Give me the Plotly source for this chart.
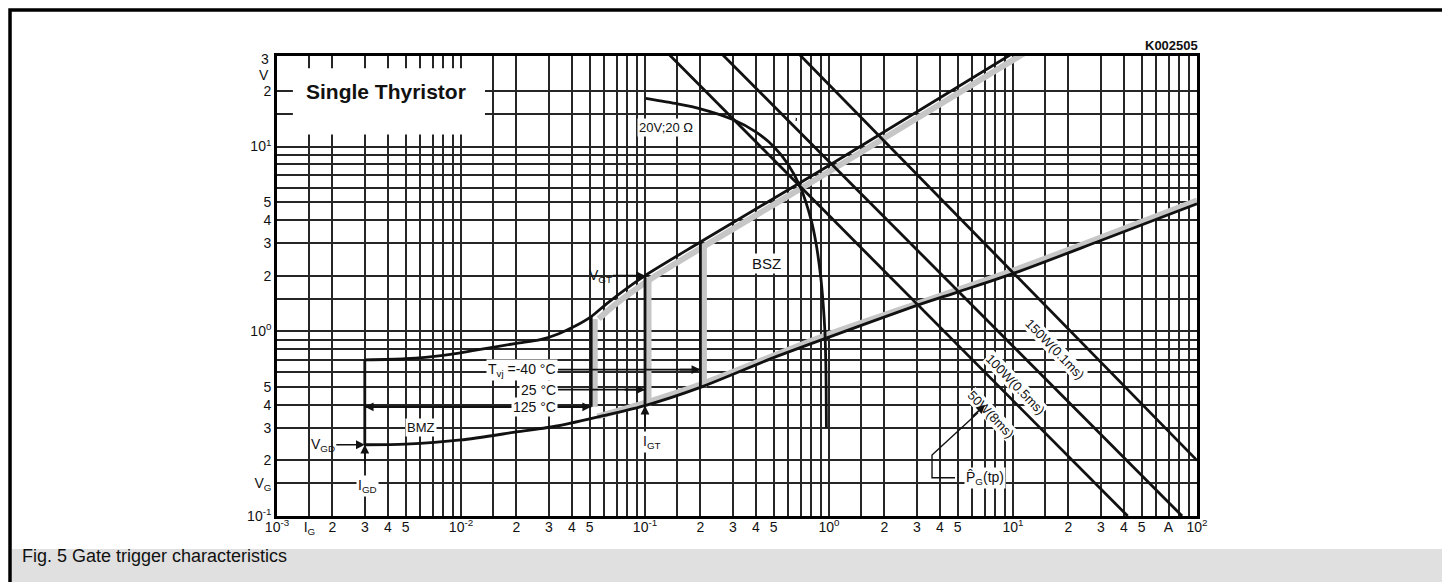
"""
Gate trigger characteristics (Fig. 5) - single thyristor
Log-log chart of gate voltage versus gate current
"""

import numpy as np
import plotly.graph_objects as go

# Upper limit of the trigger area (V_GT max)
ig_upper = [3e-3, 5e-3, 8e-3, 1.2e-2, 2e-2, 2.7e-2, 3.4e-2, 4.2e-2, 5.1e-2, 6.3e-2, 0.1, 0.2, 1.0, 10.0]
vg_upper = [0.70, 0.71, 0.74, 0.79, 0.86, 0.90, 0.97, 1.07, 1.20, 1.43, 2.0, 3.04, 7.9, 32.0]

# Lower limit (V_GD / 125 degC)
ig_lower = [3e-3, 5e-3, 1e-2, 2e-2, 3.4e-2, 6.3e-2, 0.1, 0.2, 0.5, 1.0, 3.0, 5.0, 10.0, 30.0, 100.0]
vg_lower = [0.243, 0.245, 0.258, 0.285, 0.308, 0.354, 0.396, 0.497, 0.72, 0.93, 1.38, 1.63, 2.05, 3.1, 4.9]

# Grey shading along the borders of the BSZ area
ig_shade_upper = [0.056, 0.069, 0.11, 0.22, 1.1, 11.5]
vg_shade_upper = [1.17, 1.40, 1.95, 2.97, 7.75, 32.0]
ig_shade_lower = [0.055, 0.1, 0.2, 1.0, 10.0, 100.0]
vg_shade_lower = [0.345, 0.41, 0.515, 0.965, 2.13, 5.1]

# Trigger currents per junction temperature (vertical limits)
igt_temp = [0.051, 0.1, 0.2]
vgt_top = [1.20, 2.0, 3.04]
vgt_bottom = [0.39, 0.396, 0.497]

# I_GD line
igd = [3e-3, 3e-3]
vgd = [0.70, 0.243]

# Max gate power lines
ig_p50 = [0.133, 42.0]
vg_p50 = [32.0, 0.1]
ig_p100 = [0.259, 83.0]
vg_p100 = [32.0, 0.1]
ig_p150 = [0.68, 100.0]
vg_p150 = [32.0, 0.2]

# Load line 20 V ; 20 Ohm
ig_load = [0.101, 0.15, 0.2, 0.3, 0.4, 0.5, 0.6, 0.7, 0.8, 0.85, 0.9, 0.93, 0.95, 0.96, 0.965, 0.968]
vg_load = [18.2, 17.0, 16.0, 14.0, 12.0, 10.0, 8.0, 6.0, 4.0, 3.0, 2.0, 1.4, 1.0, 0.7, 0.5, 0.3]

# Temperature arrows (current at tail, current at head, voltage)
temp_tail = [0.0337, 0.0337]
temp_head = [0.1, 0.2]
temp_v = [0.483, 0.62]
ig_125 = [3e-3, 0.051]
vg_125 = [0.39, 0.39]

# Leader of the P_G(tp) label
ig_leader = [4.84, 3.63, 3.63, 6.6]
vg_leader = [0.161, 0.161, 0.214, 0.37]

# Grid mantissas and tick labels
grid_mant = [1, 1.5, 2, 3, 4, 5, 6, 7, 8, 9]
x_labels = {1e-3: '10<sup>-3</sup>', 1.5e-3: 'I<sub>G</sub>', 2e-3: '2', 3e-3: '3', 4e-3: '4', 5e-3: '5',
            1e-2: '10<sup>-2</sup>', 2e-2: '2', 3e-2: '3', 4e-2: '4', 5e-2: '5',
            1e-1: '10<sup>-1</sup>', 2e-1: '2', 3e-1: '3', 4e-1: '4', 5e-1: '5',
            1e0: '10<sup>0</sup>', 2e0: '2', 3e0: '3', 4e0: '4', 5e0: '5',
            1e1: '10<sup>1</sup>', 2e1: '2', 3e1: '3', 4e1: '4', 5e1: '5', 7e1: 'A', 1e2: '10<sup>2</sup>'}
y_labels = {1e-1: '10<sup>-1</sup>', 1.5e-1: 'V<sub>G</sub>', 2e-1: '2', 3e-1: '3', 4e-1: '4', 5e-1: '5',
            1e0: '10<sup>0</sup>', 2e0: '2', 3e0: '3', 4e0: '4', 5e0: '5',
            1e1: '10<sup>1</sup>', 2e1: '2'}

FONT = 'Liberation Sans, Arial, sans-serif'
INK = '#111111'
GRID = '#262626'
SHADE = '#c6c6c6'


def grid_values(first_exp, last_exp, top):
    vals = [round(m * 10 ** e, 6) for e in range(first_exp, last_exp + 1) for m in grid_mant]
    return [v for v in vals if v <= top]


def lg(v):
    return float(np.log10(v))


fig = go.Figure()


def line(x, y, color=INK, width=2.8, shape='linear'):
    fig.add_trace(go.Scatter(x=x, y=y, mode='lines',
                             line=dict(color=color, width=width, shape=shape, smoothing=0.7),
                             hoverinfo='skip', showlegend=False))


# shading first so the black lines sit on top
line(ig_shade_upper, vg_shade_upper, SHADE, 6, 'spline')
line(ig_shade_lower, vg_shade_lower, SHADE, 6, 'spline')
for i, top, bot in zip(igt_temp, vgt_top, vgt_bottom):
    line([i * 1.045, i * 1.045], [top * 0.97, bot], SHADE, 6)

line(ig_upper, vg_upper, shape='spline')
line(ig_lower, vg_lower, shape='spline')
line(igd, vgd)
for i, top, bot in zip(igt_temp, vgt_top, vgt_bottom):
    line([i, i], [top, bot])
line(ig_p50, vg_p50)
line(ig_p100, vg_p100)
line(ig_p150, vg_p150)
line(ig_load, vg_load, shape='spline')
line(ig_125, vg_125, width=2.2)
for t, h, v in zip(temp_tail, temp_head, temp_v):
    line([t, h], [v, v], width=1.6)
line(ig_leader, vg_leader, width=1.4)

xgrid = grid_values(-3, 2, 100)
ygrid = grid_values(-1, 1, 25)

fig.update_xaxes(
    type='log', range=[-3, 2],
    tickvals=xgrid, ticktext=[x_labels.get(v, '') for v in xgrid],
    showgrid=True, gridcolor=GRID, gridwidth=1.6,
    showline=True, linecolor='black', linewidth=2.6, mirror=True,
    ticks='', zeroline=False, ticklabelstandoff=-4,
    tickfont=dict(family=FONT, size=14, color=INK)
)

fig.update_yaxes(
    type='log', range=[-1, 1.49],
    tickvals=ygrid, ticktext=[y_labels.get(v, '') for v in ygrid],
    showgrid=True, gridcolor=GRID, gridwidth=1.6,
    showline=True, linecolor='black', linewidth=2.6, mirror=True,
    ticks='', zeroline=False,
    tickfont=dict(family=FONT, size=14, color=INK)
)

# white box behind the title inside the plot
fig.add_shape(type='rect', xref='x', yref='y', x0=1.22e-3, x1=0.0135, y0=11.6, y1=26.5,
              fillcolor='white', line=dict(width=0), layer='above')

# caption band and outer frame
fig.add_shape(type='rect', xref='paper', yref='paper', x0=-0.288, x1=1.276, y0=-0.18, y1=-0.0717,
              fillcolor='#e0e0e0', line=dict(width=0), layer='below')
fig.add_shape(type='rect', xref='paper', yref='paper', x0=-0.2902, x1=1.2783, y0=-0.18, y1=1.1,
              fillcolor='rgba(0,0,0,0)', line=dict(color='black', width=3.5), layer='below')


def label(text, x, y, size=13, bold=False, bg='white', pad=1, **kw):
    fig.add_annotation(x=lg(x), y=lg(y), text=f'<b>{text}</b>' if bold else text,
                       showarrow=False, bgcolor=bg, borderpad=pad,
                       font=dict(family=FONT, size=size, color=INK), **kw)


def arrow(x, y, ax, ay, text='', **kw):
    fig.add_annotation(x=lg(x), y=lg(y), ax=ax, ay=ay, text=text, showarrow=True,
                       arrowhead=2, arrowsize=1.1, arrowwidth=1.6, arrowcolor=INK,
                       font=dict(family=FONT, size=14, color=INK), **kw)


label('Single Thyristor', 3.9e-3, 19.8, size=21, bold=True, bg=None)
label('20V;20 Ω', 0.13, 12.6)
label('BSZ', 0.455, 2.34, size=15)
label('BMZ', 6.07e-3, 0.30)
label('T<sub>vj</sub> =-40 °C', 0.0337, 0.62, size=14, xanchor='right')
label('25 °C', 0.0337, 0.483, size=14, xanchor='right')
label('125 °C', 0.0337, 0.39, size=14, xanchor='right')
label('I<sub>GD</sub>', 3.1e-3, 0.146, size=14)
label('I<sub>GT</sub>', 0.109, 0.25, size=14)
label('P\u0302<sub>G</sub>(tp)', 7.05, 0.161, size=14)
label('150W(0.1ms)', 17.0, 0.80, size=13, pad=0, textangle=46)
label('100W(0.5ms)', 10.3, 0.513, size=13, pad=0, textangle=46)
label('50W(8ms)', 7.6, 0.355, size=13, pad=0, textangle=46)

arrow(0.1, 2.0, -45, 0, 'V<sub>GT</sub>')
arrow(3e-3, 0.243, -42, 0, 'V<sub>GD</sub>')
arrow(3e-3, 0.243, 0, 20)
arrow(0.1, 0.396, 0, 22)
arrow(3e-3, 0.39, 20, 0)
arrow(0.051, 0.39, -20, 0)
for h, v in zip(temp_head, temp_v):
    arrow(h, v, -22, 0)
arrow(7.05, 0.40, -14, 13)

fig.add_annotation(x=lg(0.665), y=lg(14.3), ax=lg(0.662), ay=lg(13.5), axref='x', ayref='y',
                   showarrow=True, arrowhead=0, arrowwidth=1.2, arrowcolor=INK, text='')

# axis letters not tied to grid lines
for txt, yv in [('3', 29.8), ('V', 24.4)]:
    fig.add_annotation(xref='paper', x=-0.0065, y=lg(yv), text=txt, showarrow=False,
                       xanchor='right', font=dict(family=FONT, size=14, color=INK))

fig.add_annotation(xref='paper', yref='paper', x=1.003, y=1.043, text='<b>K002505</b>',
                   showarrow=False, xanchor='right', font=dict(family=FONT, size=13, color=INK))
fig.add_annotation(xref='paper', yref='paper', x=-0.2793, y=-0.113, text='Fig. 5 Gate trigger characteristics',
                   showarrow=False, xanchor='left', font=dict(family=FONT, size=18, color=INK))

fig.update_layout(
    width=1450, height=582,
    margin=dict(l=269, r=261, t=48, b=74),
    paper_bgcolor='white', plot_bgcolor='white',
    showlegend=False
)

fig.write_html('out.html')
